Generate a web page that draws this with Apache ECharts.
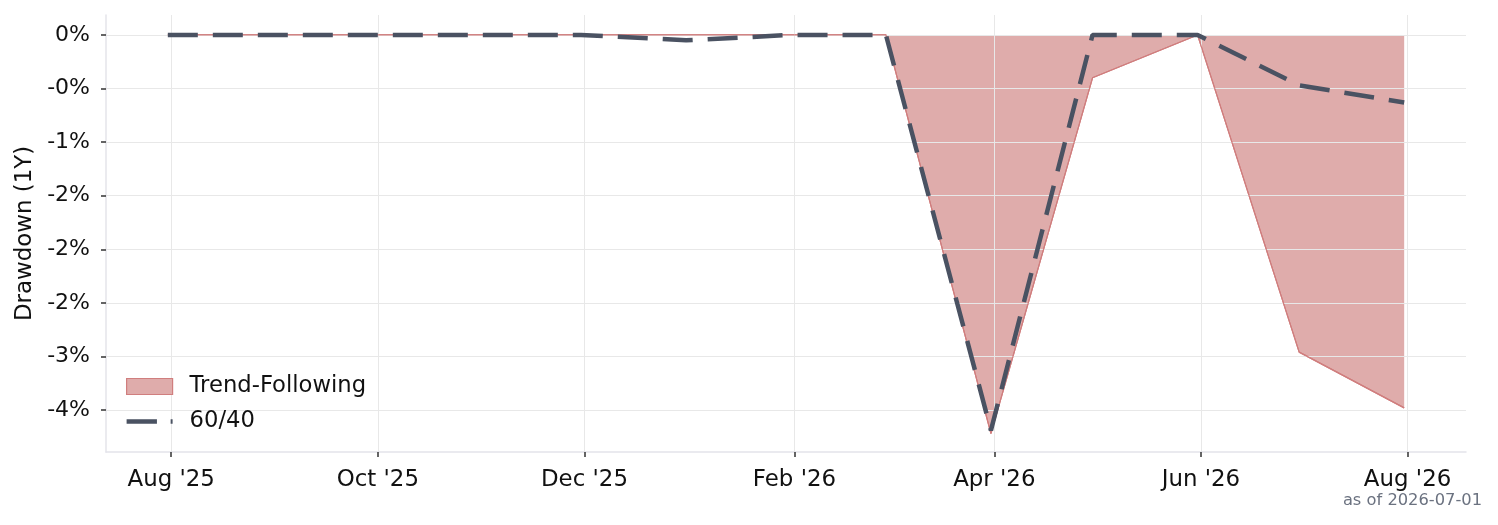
<!DOCTYPE html>
<html>
<head>
<meta charset="utf-8">
<script src="https://cdn.jsdelivr.net/npm/echarts@6/dist/echarts.min.js"></script>
<style>
  html, body { margin: 0; padding: 0; background: #fff; }
  #chart { width: 1498px; height: 525px; }
</style>
</head>
<body>
<div id="chart"></div>
<script>
// month-end observation dates
const dates = [
  '2025-07-31', '2025-08-31', '2025-09-30', '2025-10-31', '2025-11-30', '2025-12-31',
  '2026-01-31', '2026-02-28', '2026-03-31', '2026-04-30', '2026-05-31', '2026-06-30', '2026-07-31'
]
// drawdown, in percent
const trendFollowing = [0, 0, 0, 0, 0, 0, 0, 0, -3.72, -0.40, 0, -2.96, -3.48]
const sixtyForty = [0, 0, 0, 0, 0, -0.05, 0, 0, -3.69, 0, 0, -0.47, -0.63]

const xTickDates = ['2025-08-01', '2025-10-01', '2025-12-01', '2026-02-01', '2026-04-01', '2026-06-01', '2026-08-01']
const xTickLabels = ["Aug '25", "Oct '25", "Dec '25", "Feb '26", "Apr '26", "Jun '26", "Aug '26"]
const yTickValues = [0, -0.5, -1, -1.5, -2, -2.5, -3, -3.5]
const yTickLabels = ['0%', '-0%', '-1%', '-2%', '-2%', '-2%', '-3%', '-4%']

const toTs = (s) => {
  const [y, m, d] = s.split('-').map(Number)
  return Date.UTC(y, m - 1, d)
}
const DAY = 86400000
const xTicks = xTickDates.map(toTs)
const xMin = toTs(dates[0]) - 18.25 * DAY
const xMax = toTs(dates[dates.length - 1]) + 18.25 * DAY

const chart = echarts.init(document.getElementById('chart'))

const FONT = 'DejaVu Sans'
const TF_FILL = '#dfacab'
const TF_EDGE = '#d07e7e'
const SF_COLOR = '#4a5262'

const option = {
  animation: false,
  textStyle: { fontFamily: FONT },
  grid: {
    left: 106, right: 32, top: 15, bottom: 73,
    containLabel: false,
    outerBoundsMode: 'none'
  },
  legend: {
    left: 126,
    top: 374,
    orient: 'vertical',
    padding: 0,
    itemWidth: 46,
    itemHeight: 16,
    itemGap: 10,
    textStyle: {
      fontFamily: FONT,
      fontSize: 22.7,
      color: '#111',
      lineHeight: 25,
      padding: [0, 0, 0, 12]
    },
    data: [
      {
        name: 'Trend-Following',
        icon: 'rect',
        itemStyle: { color: TF_FILL, borderColor: TF_EDGE, borderWidth: 1.2 }
      },
      {
        // dashed line sample: one long dash and the start of the next
        name: '60/40',
        icon: 'path://M0,0H31V4.5H0ZM45,0H47V4.5H45Z',
        itemStyle: { color: SF_COLOR }
      }
    ]
  },
  xAxis: {
    type: 'value',
    min: xMin,
    max: xMax,
    axisLine: { show: true, onZero: false, lineStyle: { color: '#e4e4ea', width: 1.5 } },
    axisTick: {
      show: true,
      length: 5,
      customValues: xTicks,
      lineStyle: { color: '#333', width: 1.5 }
    },
    axisLabel: {
      customValues: xTicks,
      margin: 17,
      fontFamily: FONT,
      fontSize: 22.9,
      color: '#111',
      formatter: (v) => xTickLabels[xTicks.indexOf(v)] || ''
    },
    splitLine: { show: true, lineStyle: { color: '#e8e8e8', width: 1 } }
  },
  yAxis: {
    type: 'value',
    min: -3.892,
    max: 0.186,
    name: 'Drawdown (1Y)',
    nameLocation: 'middle',
    nameGap: 68,
    nameTextStyle: { fontFamily: FONT, fontSize: 22.9, color: '#111' },
    axisLine: { show: true, lineStyle: { color: '#e4e4ea', width: 1.5 } },
    axisTick: {
      show: true,
      length: 5,
      customValues: yTickValues,
      lineStyle: { color: '#333', width: 1.5 }
    },
    axisLabel: {
      customValues: yTickValues,
      margin: 16,
      fontFamily: FONT,
      fontSize: 22,
      color: '#111',
      formatter: (v) => yTickLabels[yTickValues.indexOf(v)] || ''
    },
    splitLine: { show: true, lineStyle: { color: '#e8e8e8', width: 1 } }
  },
  series: [
    {
      // filled drawdown area, drawn under the grid lines
      name: 'Trend-Following',
      type: 'line',
      z: -1,
      symbol: 'none',
      itemStyle: { color: TF_FILL },
      lineStyle: { color: TF_EDGE, width: 1.2 },
      areaStyle: { color: TF_FILL, opacity: 1, origin: 0 },
      data: dates.map((d, i) => [toTs(d), trendFollowing[i]])
    },
    {
      // edge of the fill, on top of the grid
      name: 'tf-edge',
      type: 'line',
      z: 1,
      symbol: 'none',
      silent: true,
      lineStyle: { color: TF_EDGE, width: 1.2 },
      data: dates.map((d, i) => [toTs(d), trendFollowing[i]])
    },
    {
      name: '60/40',
      type: 'line',
      z: 3,
      symbol: 'none',
      itemStyle: { color: SF_COLOR },
      lineStyle: { color: SF_COLOR, width: 4.5, type: [30, 15], cap: 'butt' },
      data: dates.map((d, i) => [toTs(d), sixtyForty[i]])
    }
  ],
  graphic: [
    {
      type: 'text',
      right: 16,
      top: 493,
      style: {
        text: 'as of 2026-07-01',
        fontFamily: FONT,
        fontSize: 16.3,
        fill: '#6b7280'
      }
    }
  ]
}

chart.setOption(option)
window.addEventListener('resize', () => chart.resize())
</script>
</body>
</html>
